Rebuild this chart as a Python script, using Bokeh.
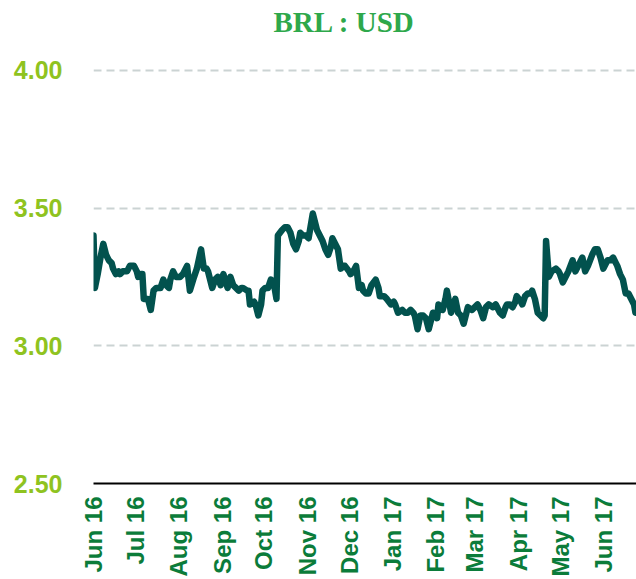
import math
import pandas as pd
from bokeh.plotting import figure
from bokeh.models import ColumnDataSource, FixedTicker, Range1d, NumeralTickFormatter, Title
from bokeh.embed import file_html
from bokeh.resources import INLINE

# ---- data ----
start_date = "2016-06-01"
day_offsets = [0, 1, 3, 5, 7, 9, 11, 13, 14, 16,
               18, 19, 21, 24, 26, 29, 31, 32, 34, 35,
               36, 39, 41, 43, 45, 48, 50, 52, 54, 55,
               57, 59, 62, 64, 67, 69, 72, 74, 77, 79,
               81, 82, 85, 87, 89, 91, 93, 96, 98, 100,
               102, 104, 106, 107, 110, 111, 112, 115, 116, 118,
               120, 121, 123, 125, 127, 129, 130, 131, 132, 135,
               137, 139, 141, 143, 145, 147, 148, 150, 152, 154,
               157, 160, 164, 166, 168, 170, 171, 173, 175, 177,
               179, 180, 183, 184, 186, 188, 190, 192, 193, 195,
               197, 199, 202, 204, 205, 208, 210, 213, 215, 216,
               218, 221, 223, 225, 227, 229, 230, 232, 234, 236,
               238, 240, 243, 245, 246, 247, 250, 252, 253, 256,
               257, 259, 261, 263, 265, 267, 268, 271, 273, 275,
               277, 279, 281, 283, 286, 288, 289, 291, 293, 295,
               296, 298, 300, 302, 303, 306, 307, 309, 311, 313,
               314, 316, 318, 320, 322, 323, 324, 326, 328, 331,
               333, 334, 336, 339, 340, 343, 345, 347, 350, 352,
               354, 357, 359, 361, 363, 365, 368, 370, 372, 374,
               375, 377, 379, 381, 383, 384, 387, 388]
rates = [3.40, 3.21, 3.26, 3.32, 3.37, 3.33, 3.31, 3.30, 3.28, 3.26,
         3.27, 3.26, 3.27, 3.27, 3.29, 3.29, 3.27, 3.25, 3.26, 3.26,
         3.17, 3.17, 3.13, 3.20, 3.21, 3.21, 3.24, 3.22, 3.21, 3.24,
         3.27, 3.25, 3.25, 3.26, 3.29, 3.20, 3.25, 3.28, 3.35, 3.28,
         3.28, 3.27, 3.21, 3.24, 3.25, 3.22, 3.26, 3.21, 3.25, 3.22,
         3.21, 3.20, 3.21, 3.21, 3.20, 3.20, 3.15, 3.16, 3.15, 3.11,
         3.15, 3.20, 3.21, 3.21, 3.24, 3.23, 3.20, 3.17, 3.40, 3.42,
         3.43, 3.43, 3.41, 3.37, 3.35, 3.38, 3.41, 3.40, 3.40, 3.39,
         3.48, 3.42, 3.38, 3.35, 3.33, 3.36, 3.39, 3.37, 3.35, 3.28,
         3.29, 3.29, 3.27, 3.26, 3.27, 3.29, 3.21, 3.22, 3.20, 3.19,
         3.19, 3.22, 3.24, 3.21, 3.18, 3.18, 3.17, 3.15, 3.16, 3.15,
         3.12, 3.13, 3.12, 3.12, 3.13, 3.12, 3.11, 3.06, 3.11, 3.11,
         3.10, 3.06, 3.12, 3.11, 3.10, 3.15, 3.13, 3.17, 3.20, 3.12,
         3.14, 3.17, 3.12, 3.11, 3.08, 3.12, 3.14, 3.13, 3.14, 3.15,
         3.13, 3.10, 3.14, 3.15, 3.14, 3.15, 3.14, 3.12, 3.11, 3.14,
         3.15, 3.15, 3.14, 3.16, 3.18, 3.16, 3.15, 3.18, 3.19, 3.19,
         3.20, 3.17, 3.12, 3.11, 3.10, 3.11, 3.38, 3.25, 3.27, 3.28,
         3.27, 3.26, 3.23, 3.26, 3.27, 3.31, 3.27, 3.29, 3.32, 3.27,
         3.29, 3.33, 3.35, 3.35, 3.32, 3.28, 3.31, 3.31, 3.32, 3.30,
         3.29, 3.26, 3.24, 3.19, 3.19, 3.18, 3.15, 3.12]
month_labels = ["Jun 16", "Jul 16", "Aug 16", "Sep 16", "Oct 16", "Nov 16",
                "Dec 16", "Jan 17", "Feb 17", "Mar 17", "Apr 17", "May 17", "Jun 17"]
y_ticks = [2.5, 3.0, 3.5, 4.0]
title_text = "BRL : USD"

assert len(day_offsets) == len(rates)

base = pd.Timestamp(start_date)
dates = [base + pd.Timedelta(days=d) for d in day_offsets]
source = ColumnDataSource(data=dict(date=dates, rate=rates))

month_starts = pd.date_range(start_date, periods=len(month_labels), freq="MS")
month_ms = [float(ts.value // 10**6) for ts in month_starts]

x_end = dates[-1] + pd.Timedelta(hours=18)

p = figure(width=636, height=579, x_axis_type="datetime",
           output_backend="svg", toolbar_location=None,
           x_range=Range1d(start=dates[0], end=x_end),
           y_range=Range1d(start=2.5, end=4.01),
           min_border_left=93, min_border_right=0,
           min_border_top=67, min_border_bottom=93)

p.outline_line_color = None
p.background_fill_color = "white"
p.border_fill_color = "white"

# spacer (closest to frame) and then the visible title above it
p.add_layout(Title(text=" ", text_font_size="1px", standoff=24), "above")
p.add_layout(Title(text=title_text, text_font="Liberation Serif",
                   text_font_size="29px", text_font_style="bold",
                   text_color="#2EA84B", align="left", offset=180,
                   standoff=5), "above")

# y axis
p.yaxis.ticker = FixedTicker(ticks=y_ticks)
p.yaxis.formatter = NumeralTickFormatter(format="0.00")
p.yaxis.axis_line_color = None
p.yaxis.major_tick_line_color = None
p.yaxis.major_tick_out = 0
p.yaxis.major_tick_in = 0
p.yaxis.minor_tick_line_color = None
p.yaxis.major_label_standoff = 31
p.yaxis.major_label_text_font = "Liberation Sans"
p.yaxis.major_label_text_font_size = "25px"
p.yaxis.major_label_text_font_style = "bold"
p.yaxis.major_label_text_color = "#8FC31F"

# x axis
p.xaxis.ticker = FixedTicker(ticks=month_ms)
p.xaxis.major_label_overrides = {ms: lab for ms, lab in zip(month_ms, month_labels)}
p.xaxis.axis_line_color = "black"
p.xaxis.axis_line_width = 2
p.xaxis.major_tick_line_color = None
p.xaxis.major_tick_out = 0
p.xaxis.major_tick_in = 0
p.xaxis.minor_tick_line_color = None
p.xaxis.major_label_orientation = math.pi / 2
p.xaxis.major_label_standoff = 13
p.xaxis.major_label_text_font = "Liberation Sans"
p.xaxis.major_label_text_font_size = "24px"
p.xaxis.major_label_text_font_style = "bold"
p.xaxis.major_label_text_color = "#0B7C3A"

# grid
p.xgrid.grid_line_color = None
p.ygrid.grid_line_color = "#CBD3D3"
p.ygrid.grid_line_width = 2
p.ygrid.grid_line_dash = "8 5"

p.line(x="date", y="rate", source=source, line_color="#02524E",
       line_width=6.5, line_join="round", line_cap="round")

open("out.html", "w").write(file_html(p, INLINE))
